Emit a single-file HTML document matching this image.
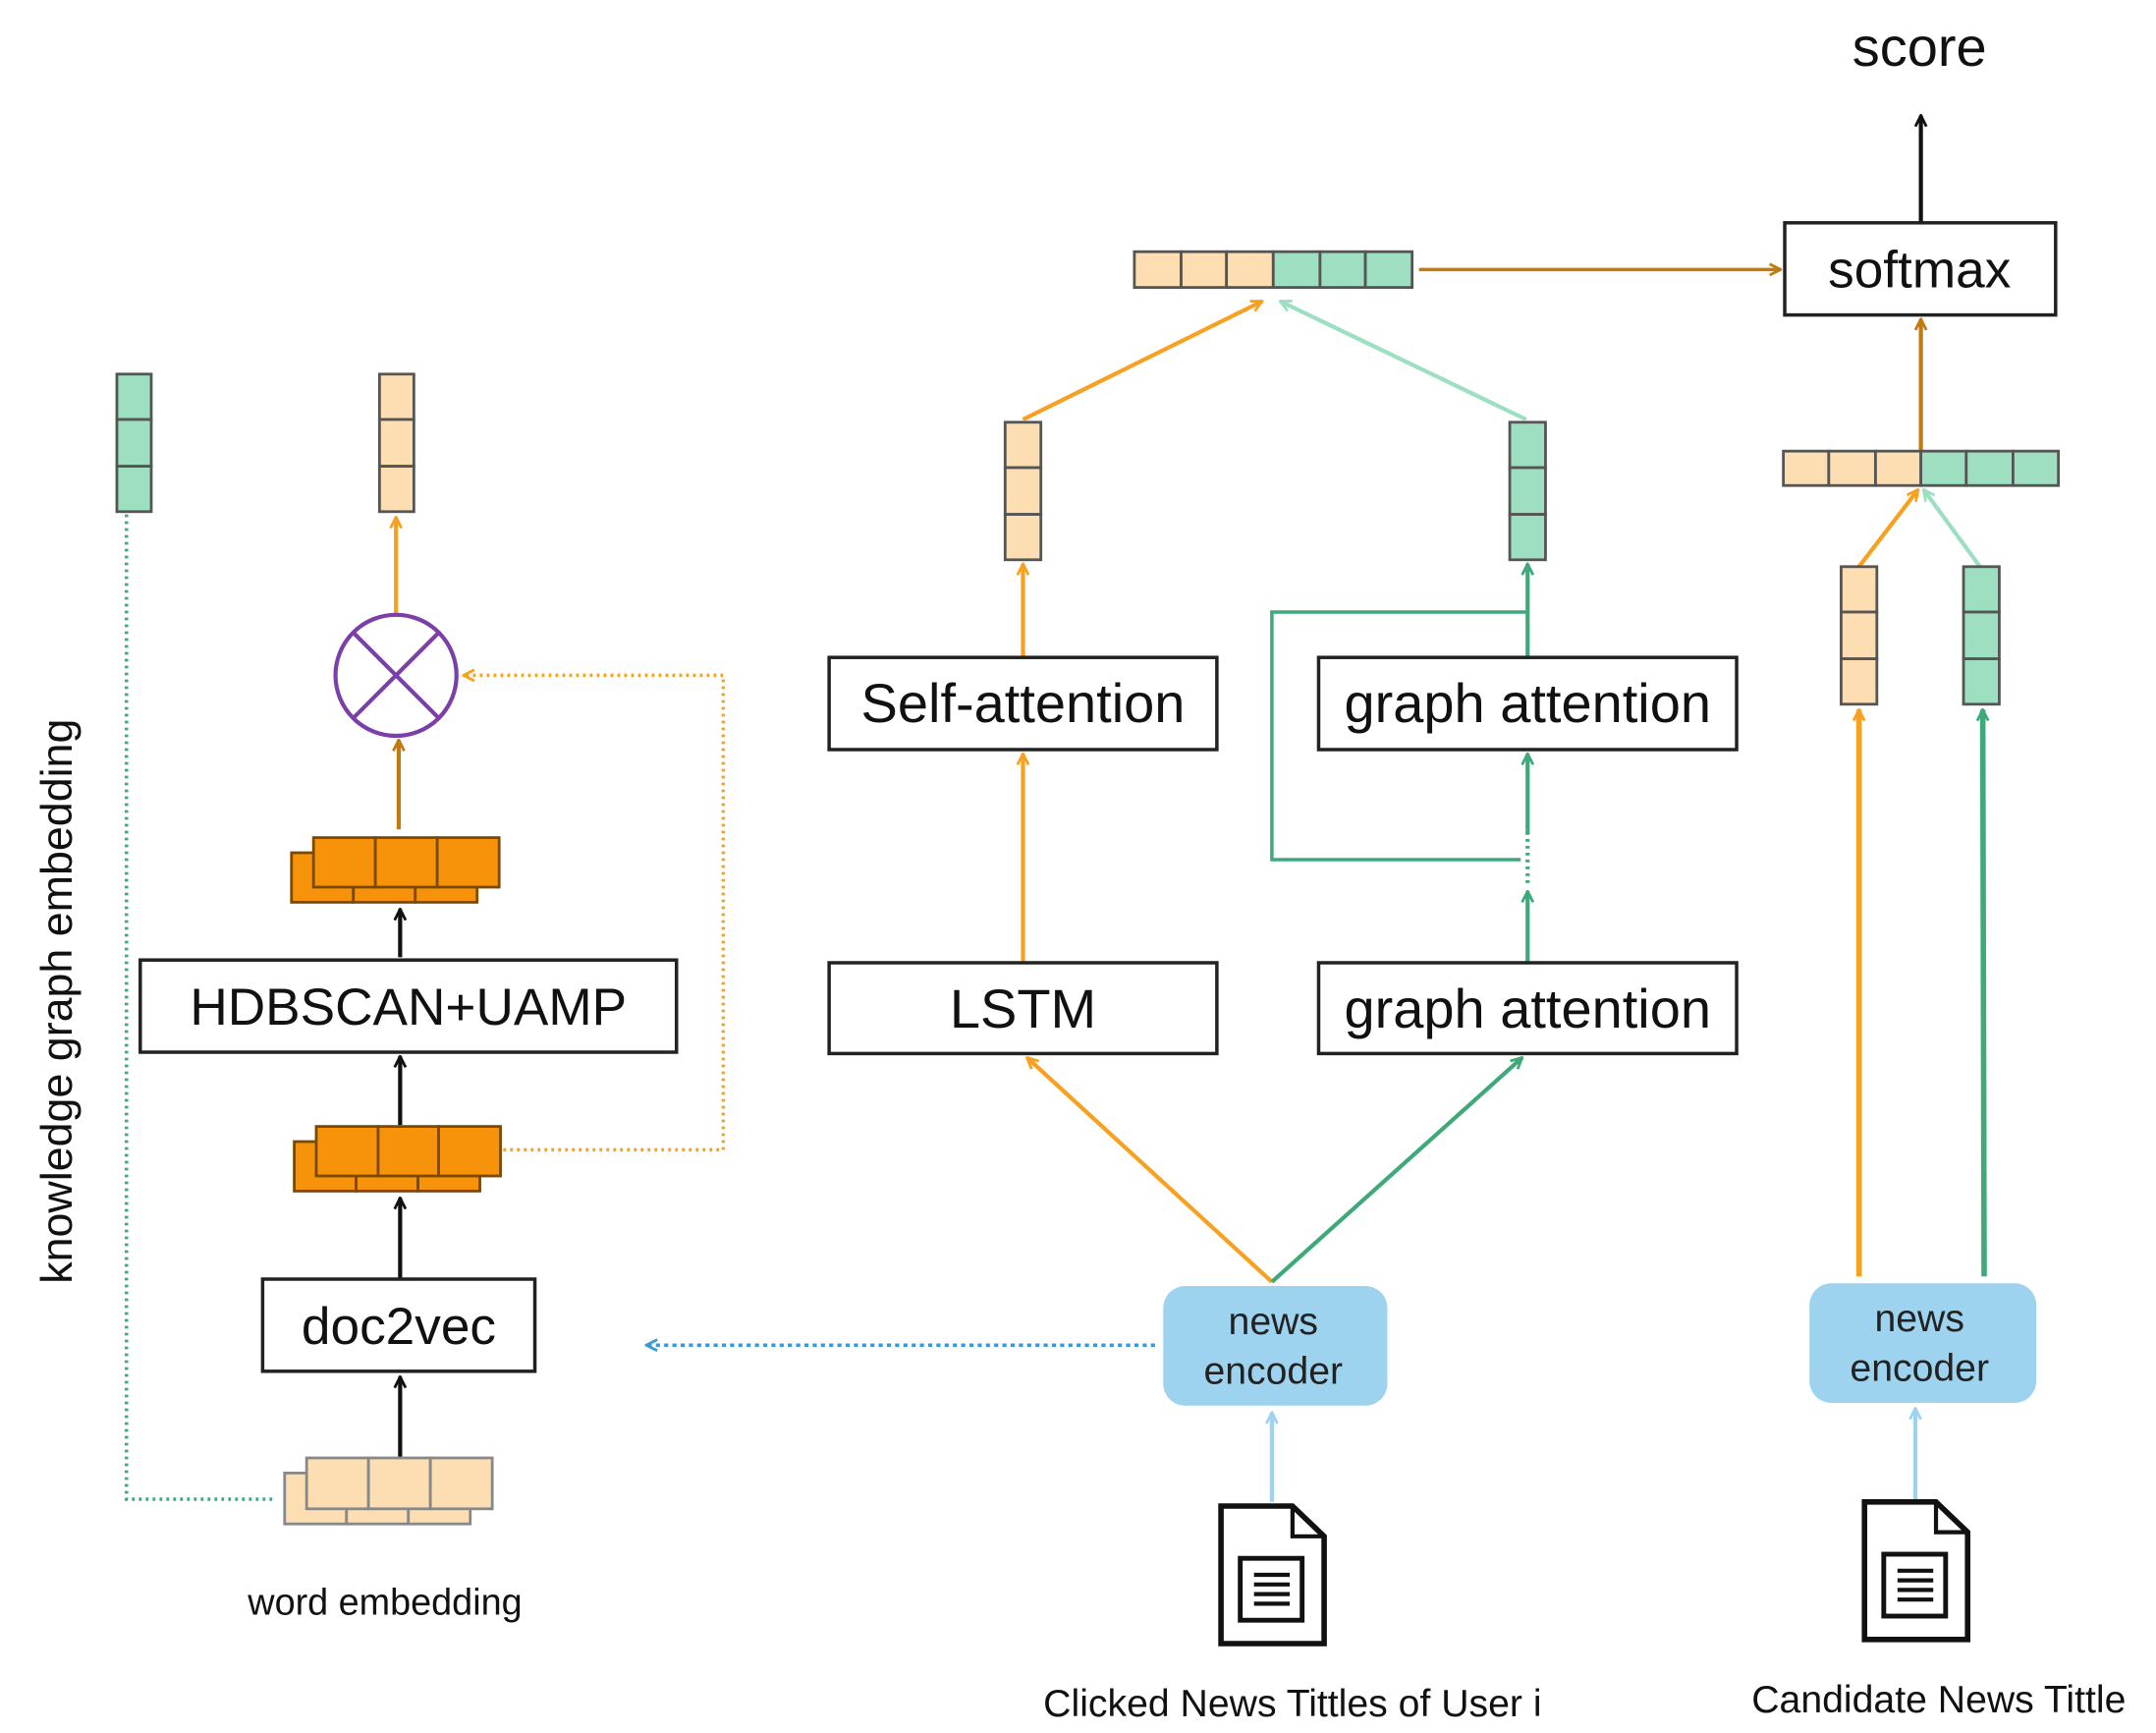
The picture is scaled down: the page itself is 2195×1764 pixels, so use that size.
<!DOCTYPE html>
<html><head><meta charset="utf-8"><style>html,body{margin:0;padding:0;background:#fff}svg{display:block}</style></head>
<body>
<svg width="2195" height="1764" viewBox="0 0 1568 1260" preserveAspectRatio="none" xmlns="http://www.w3.org/2000/svg" font-family="Liberation Sans, Arial, sans-serif">
<defs>
<marker id="ab" markerWidth="10" markerHeight="10" refX="9" refY="5" orient="auto" markerUnits="userSpaceOnUse"><path d="M1,1 L9,5 L1,9" fill="none" stroke="#111" stroke-width="2"/></marker>
<marker id="ao" markerWidth="10" markerHeight="10" refX="9" refY="5" orient="auto" markerUnits="userSpaceOnUse"><path d="M1,1 L9,5 L1,9" fill="none" stroke="#F8A020" stroke-width="2"/></marker>
<marker id="abr" markerWidth="10" markerHeight="10" refX="9" refY="5" orient="auto" markerUnits="userSpaceOnUse"><path d="M1,1 L9,5 L1,9" fill="none" stroke="#C07A10" stroke-width="2"/></marker>
<marker id="ag" markerWidth="10" markerHeight="10" refX="9" refY="5" orient="auto" markerUnits="userSpaceOnUse"><path d="M1,1 L9,5 L1,9" fill="none" stroke="#3FA97A" stroke-width="2"/></marker>
<marker id="alg" markerWidth="10" markerHeight="10" refX="9" refY="5" orient="auto" markerUnits="userSpaceOnUse"><path d="M1,1 L9,5 L1,9" fill="none" stroke="#9DDFC0" stroke-width="2"/></marker>
<marker id="alb" markerWidth="10" markerHeight="10" refX="9" refY="5" orient="auto" markerUnits="userSpaceOnUse"><path d="M1,1 L9,5 L1,9" fill="none" stroke="#9DD3EE" stroke-width="2"/></marker>
<marker id="adb" markerWidth="10" markerHeight="10" refX="9" refY="5" orient="auto" markerUnits="userSpaceOnUse"><path d="M1,1 L9,5 L1,9" fill="none" stroke="#3A9AD9" stroke-width="2"/></marker>
</defs>

<text x="1396" y="48" font-size="40" text-anchor="middle" fill="#111">score</text>
<line x1="1397" y1="162" x2="1397" y2="84" stroke="#111" stroke-width="3" marker-end="url(#ab)"/>
<rect x="1298" y="162" width="197" height="67" fill="#fff" stroke="#222" stroke-width="2.5"/>
<text x="1396" y="209" font-size="38" text-anchor="middle" fill="#111">softmax</text>

<g stroke="#555" stroke-width="2">
<rect x="825" y="183" width="34" height="26" fill="#FDDEB3"/><rect x="859" y="183" width="33" height="26" fill="#FDDEB3"/><rect x="892" y="183" width="34" height="26" fill="#FDDEB3"/>
<rect x="926" y="183" width="34" height="26" fill="#9DDFC0"/><rect x="960" y="183" width="33" height="26" fill="#9DDFC0"/><rect x="993" y="183" width="34" height="26" fill="#9DDFC0"/>
</g>
<line x1="1032" y1="196" x2="1295" y2="196" stroke="#C07A10" stroke-width="2.5" marker-end="url(#abr)"/>

<line x1="1397" y1="328" x2="1397" y2="232" stroke="#C07A10" stroke-width="3" marker-end="url(#abr)"/>
<g stroke="#555" stroke-width="2">
<rect x="1297" y="328" width="33" height="25" fill="#FDDEB3"/><rect x="1330" y="328" width="34" height="25" fill="#FDDEB3"/><rect x="1364" y="328" width="33" height="25" fill="#FDDEB3"/>
<rect x="1397" y="328" width="33" height="25" fill="#9DDFC0"/><rect x="1430" y="328" width="34" height="25" fill="#9DDFC0"/><rect x="1464" y="328" width="33" height="25" fill="#9DDFC0"/>
</g>
<line x1="1352" y1="412" x2="1395" y2="356" stroke="#F8A020" stroke-width="3" marker-end="url(#ao)"/>
<line x1="1440" y1="412" x2="1399" y2="356" stroke="#9DDFC0" stroke-width="3" marker-end="url(#alg)"/>
<g stroke="#555" stroke-width="2">
<rect x="1339" y="412" width="26" height="33" fill="#FDDEB3"/><rect x="1339" y="445" width="26" height="34" fill="#FDDEB3"/><rect x="1339" y="479" width="26" height="33" fill="#FDDEB3"/>
<rect x="1428" y="412" width="26" height="33" fill="#9DDFC0"/><rect x="1428" y="445" width="26" height="34" fill="#9DDFC0"/><rect x="1428" y="479" width="26" height="33" fill="#9DDFC0"/>
</g>
<line x1="1352" y1="928" x2="1352" y2="516" stroke="#F8A020" stroke-width="4" marker-end="url(#ao)"/>
<line x1="1443" y1="928" x2="1442" y2="516" stroke="#3FA97A" stroke-width="4" marker-end="url(#ag)"/>
<rect x="1316" y="933" width="165" height="87" rx="16" fill="#9DD3EE"/>
<text x="1396" y="968" font-size="28" text-anchor="middle" fill="#222">news</text>
<text x="1396" y="1004" font-size="28" text-anchor="middle" fill="#222">encoder</text>
<line x1="1393" y1="1090" x2="1393" y2="1024" stroke="#9DD3EE" stroke-width="3" marker-end="url(#alb)"/>
<g transform="translate(1356,1092)" fill="none" stroke="#111">
<path d="M0,0 H52 L75,22 V100 H0 Z" stroke-width="4" fill="#fff"/><path d="M52,0 V22 H75" stroke-width="3"/>
<rect x="14" y="38" width="45" height="45" stroke-width="3.5"/>
<path d="M24,50 H50 M24,57 H50 M24,64 H50 M24,71 H50" stroke-width="3"/>
</g>
<text x="1410" y="1245" font-size="28" text-anchor="middle" fill="#111">Candidate News Tittle</text>

<g stroke="#555" stroke-width="2">
<rect x="731" y="307" width="26" height="33" fill="#FDDEB3"/><rect x="731" y="340" width="26" height="34" fill="#FDDEB3"/><rect x="731" y="374" width="26" height="33" fill="#FDDEB3"/>
<rect x="1098" y="307" width="26" height="33" fill="#9DDFC0"/><rect x="1098" y="340" width="26" height="34" fill="#9DDFC0"/><rect x="1098" y="374" width="26" height="33" fill="#9DDFC0"/>
</g>
<line x1="744" y1="305" x2="918" y2="219" stroke="#F8A020" stroke-width="3" marker-end="url(#ao)"/>
<line x1="1110" y1="305" x2="931" y2="219" stroke="#9DDFC0" stroke-width="3" marker-end="url(#alg)"/>
<line x1="744" y1="478" x2="744" y2="410" stroke="#F8A020" stroke-width="3" marker-end="url(#ao)"/>
<line x1="744" y1="700" x2="744" y2="548" stroke="#F8A020" stroke-width="3" marker-end="url(#ao)"/>
<rect x="603" y="478" width="282" height="67" fill="#fff" stroke="#222" stroke-width="2.5"/>
<text x="744" y="525" font-size="40" text-anchor="middle" fill="#111">Self-attention</text>
<rect x="603" y="700" width="282" height="66" fill="#fff" stroke="#222" stroke-width="2.5"/>
<text x="744" y="747" font-size="40" text-anchor="middle" fill="#111">LSTM</text>
<line x1="1111" y1="478" x2="1111" y2="410" stroke="#3FA97A" stroke-width="3" marker-end="url(#ag)"/>
<path d="M1111,445 H925 V625 H1106" fill="none" stroke="#3FA97A" stroke-width="2.5"/>
<line x1="1111" y1="600" x2="1111" y2="642" stroke="#3FA97A" stroke-width="3" stroke-dasharray="2,3"/>
<line x1="1111" y1="606" x2="1111" y2="548" stroke="#3FA97A" stroke-width="3" marker-end="url(#ag)"/>
<line x1="1111" y1="700" x2="1111" y2="648" stroke="#3FA97A" stroke-width="3" marker-end="url(#ag)"/>
<rect x="959" y="478" width="304" height="67" fill="#fff" stroke="#222" stroke-width="2.5"/>
<text x="1111" y="525" font-size="40" text-anchor="middle" fill="#111">graph attention</text>
<rect x="959" y="700" width="304" height="66" fill="#fff" stroke="#222" stroke-width="2.5"/>
<text x="1111" y="747" font-size="40" text-anchor="middle" fill="#111">graph attention</text>
<line x1="925" y1="932" x2="747" y2="769" stroke="#F8A020" stroke-width="3" marker-end="url(#ao)"/>
<line x1="925" y1="932" x2="1107" y2="769" stroke="#3FA97A" stroke-width="3" marker-end="url(#ag)"/>
<rect x="846" y="935" width="163" height="87" rx="16" fill="#9DD3EE"/>
<text x="926" y="970" font-size="28" text-anchor="middle" fill="#222">news</text>
<text x="926" y="1006" font-size="28" text-anchor="middle" fill="#222">encoder</text>
<line x1="840" y1="978" x2="470" y2="978" stroke="#3A9AD9" stroke-width="2.5" stroke-dasharray="3,3" marker-end="url(#adb)"/>
<line x1="925" y1="1092" x2="925" y2="1027" stroke="#9DD3EE" stroke-width="3" marker-end="url(#alb)"/>
<g transform="translate(888,1095)" fill="none" stroke="#111">
<path d="M0,0 H52 L75,22 V100 H0 Z" stroke-width="4" fill="#fff"/><path d="M52,0 V22 H75" stroke-width="3"/>
<rect x="14" y="38" width="45" height="45" stroke-width="3.5"/>
<path d="M24,50 H50 M24,57 H50 M24,64 H50 M24,71 H50" stroke-width="3"/>
</g>
<text x="940" y="1248" font-size="28" text-anchor="middle" fill="#111">Clicked News Tittles of User i</text>

<text transform="translate(52,728) rotate(-90)" font-size="32" text-anchor="middle" fill="#111">knowledge graph embedding</text>
<g stroke="#555" stroke-width="2">
<rect x="85" y="272" width="25" height="33" fill="#9DDFC0"/><rect x="85" y="305" width="25" height="34" fill="#9DDFC0"/><rect x="85" y="339" width="25" height="33" fill="#9DDFC0"/>
<rect x="276" y="272" width="25" height="33" fill="#FDDEB3"/><rect x="276" y="305" width="25" height="34" fill="#FDDEB3"/><rect x="276" y="339" width="25" height="33" fill="#FDDEB3"/>
</g>
<path d="M92,374 V1090 H198" fill="none" stroke="#3FA97A" stroke-width="2.5" stroke-dasharray="2,3"/>
<line x1="288" y1="446" x2="288" y2="376" stroke="#F8A020" stroke-width="3" marker-end="url(#ao)"/>
<circle cx="288" cy="491" r="44" fill="#fff" stroke="#7B3FA8" stroke-width="3"/>
<path d="M257,460 L319,522 M319,460 L257,522" stroke="#7B3FA8" stroke-width="3"/>
<line x1="290" y1="603" x2="290" y2="538" stroke="#C07A10" stroke-width="3" marker-end="url(#abr)"/>
<path d="M366,836 H526 V491 H337" fill="none" stroke="#F8A020" stroke-width="2.5" stroke-dasharray="2,3" marker-end="url(#ao)"/>
<g stroke="#7a4a00" stroke-width="2" fill="#F7930A">
<rect x="212" y="620" width="45" height="36"/><rect x="257" y="620" width="45" height="36"/><rect x="302" y="620" width="45" height="36"/>
<rect x="228" y="609" width="45" height="36"/><rect x="273" y="609" width="45" height="36"/><rect x="318" y="609" width="45" height="36"/>
</g>
<line x1="291" y1="696" x2="291" y2="661" stroke="#111" stroke-width="3" marker-end="url(#ab)"/>
<rect x="102" y="698" width="390" height="67" fill="#fff" stroke="#222" stroke-width="2.5"/>
<text x="297" y="745" font-size="38" text-anchor="middle" fill="#111">HDBSCAN+UAMP</text>
<line x1="291" y1="818" x2="291" y2="768" stroke="#111" stroke-width="3" marker-end="url(#ab)"/>
<g stroke="#7a4a00" stroke-width="2" fill="#F7930A">
<rect x="214" y="830" width="45" height="36"/><rect x="259" y="830" width="45" height="36"/><rect x="304" y="830" width="45" height="36"/>
<rect x="230" y="819" width="45" height="36"/><rect x="275" y="819" width="44" height="36"/><rect x="319" y="819" width="45" height="36"/>
</g>
<line x1="291" y1="929" x2="291" y2="871" stroke="#111" stroke-width="3" marker-end="url(#ab)"/>
<rect x="191" y="930" width="198" height="67" fill="#fff" stroke="#222" stroke-width="2.5"/>
<text x="290" y="977" font-size="38" text-anchor="middle" fill="#111">doc2vec</text>
<line x1="291" y1="1060" x2="291" y2="1001" stroke="#111" stroke-width="3" marker-end="url(#ab)"/>
<g stroke="#888" stroke-width="2" fill="#FDDEB3">
<rect x="207" y="1071" width="45" height="37"/><rect x="252" y="1071" width="45" height="37"/><rect x="297" y="1071" width="45" height="37"/>
<rect x="223" y="1060" width="45" height="37"/><rect x="268" y="1060" width="45" height="37"/><rect x="313" y="1060" width="45" height="37"/>
</g>
<text x="280" y="1174" font-size="27" text-anchor="middle" fill="#111">word embedding</text>
</svg>
</body></html>
